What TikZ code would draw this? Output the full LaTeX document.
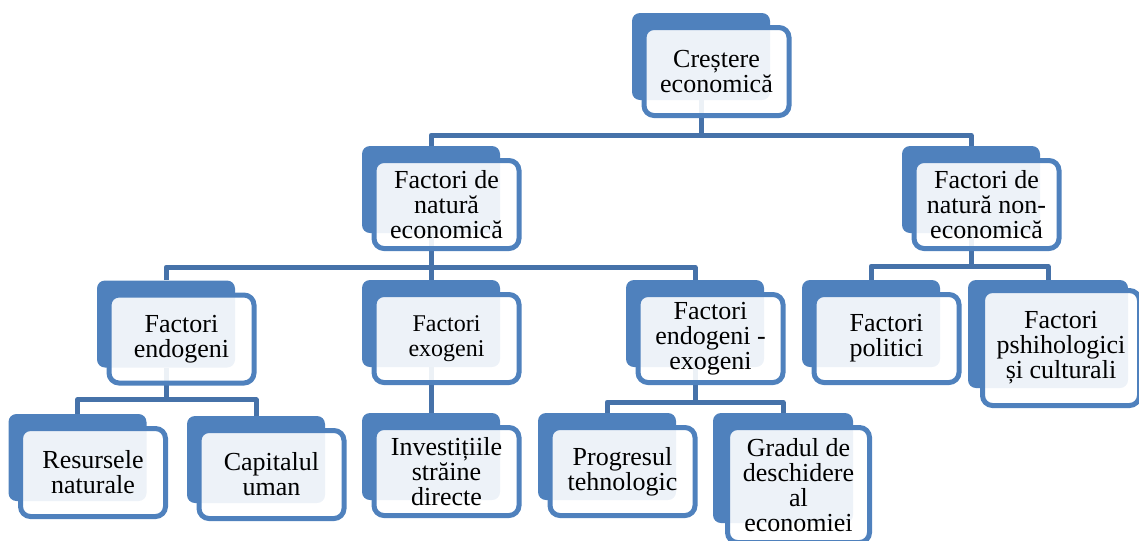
\documentclass[tikz,border=0pt]{standalone}
\usepackage{fontspec}
\setmainfont{Liberation Serif}
\usepackage{tikz}
\usetikzlibrary{calc,backgrounds}
\definecolor{sblue}{HTML}{4F81BD}
\definecolor{connc}{HTML}{4672A9}

\begin{document}
\begin{tikzpicture}[x=0.75pt, y=-0.75pt,
    back/.style={rounded corners=6pt, fill=sblue, minimum width=103.5pt, minimum height=65.25pt, inner sep=0pt},
    front/.style={rounded corners=7.5pt, draw=sblue, line width=3.75pt, fill=white, fill opacity=0.9, text opacity=1,
      minimum width=108.75pt, minimum height=66pt, inner sep=0pt, align=center,
      font=\fontsize{19.5pt}{18.75pt}\selectfont},
    conn/.style={draw=connc, line width=3.75pt, line join=round}]
  \useasboundingbox (0,0) rectangle (1139,540);
  \clip (0,0) rectangle (1139,540);

  % boxes of the usual size
  \foreach \n/\x/\y/\t in {ce/701/56.5/{Creștere\\economică},
      econ/431/189.5/{Factori de\\natură\\economică},
      nonecon/971/189.5/{Factori de\\natură non-\\economică},
      endo/166/324/{Factori\\endogeni},
      endoexo/695/323.5/{Factori\\endogeni -\\exogeni},
      pol/871/323.5/{Factori\\politici},
      res/77.5/457.5/{Resursele\\naturale},
      cap/256/459.5/{Capitalul\\uman},
      inv/431/456.5/{Investițiile\\străine\\directe},
      prog/607/456.5/{Progresul\\tehnologic}} {
    \node[back] (\n) at (\x,\y) {};
    \node[front] (\n-t) at (\x+15.5,\y+15) {\t};
  }
  % smaller text
  \node[back] (exo) at (431,323.5) {};
  \node[front, font=\fontsize{18pt}{18.75pt}\selectfont] (exo-t) at (446.5,338.5) {Factori\\exogeni};
  % larger boxes
  \node[back, minimum width=120pt, minimum height=81pt] (psi) at (1048,334) {};
  \node[front, minimum width=117.75pt, minimum height=86.25pt] (psi-t) at (1061,348) {Factori\\pshihologici\\și culturali};
  \node[back, minimum width=105pt, minimum height=82.5pt] (grad) at (783,468) {};
  \node[front, minimum width=106.5pt, minimum height=86.25pt] (grad-t) at (798.5,485) {Gradul de\\deschidere\\al\\economiei};

  % connectors
  \begin{scope}[on background layer]
    \draw[conn] (ce.south) -- ++(0,35) coordinate (j1);
    \draw[conn] (econ.north) |- (j1) -| (nonecon.north);
    \draw[conn] (econ.south) -- ++(0,34) coordinate (j2);
    \draw[conn] (endo.north) |- (j2) -| (endoexo.north);
    \draw[conn] (j2) -- (exo.north);
    \draw[conn] (nonecon.south) -- ++(0,33) coordinate (j3);
    \draw[conn] (pol.north) |- (j3) -| (psi.north);
    \draw[conn] (endo.south) -- ++(0,32) coordinate (j4);
    \draw[conn] (res.north) |- (j4) -| (cap.north);
    \draw[conn] (exo.south) -- (inv.north);
    \draw[conn] (endoexo.south) -- ++(0,35) coordinate (j5);
    \draw[conn] (prog.north) |- (j5) -| (grad.north);
  \end{scope}
\end{tikzpicture}
\end{document}
